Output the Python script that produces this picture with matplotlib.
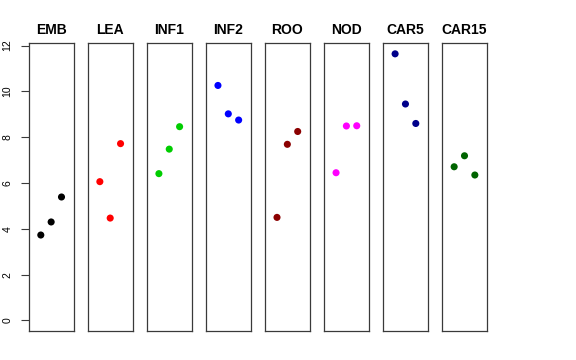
import matplotlib
matplotlib.use("Agg")
import matplotlib.pyplot as plt

plt.rcParams['font.family'] = ['Liberation Sans', 'DejaVu Sans']

tissues = ["EMB", "LEA", "INF1", "INF2", "ROO", "NOD", "CAR5", "CAR15"]
colors = ["#000000", "#FF0000", "#00CD00", "#0000FF", "#8B0000", "#FF00FF", "#00008B", "#006400"]
values = {
    "EMB":   [3.73, 4.30, 5.39],
    "LEA":   [6.06, 4.47, 7.72],
    "INF1":  [6.41, 7.48, 8.46],
    "INF2":  [10.26, 9.02, 8.75],
    "ROO":   [4.50, 7.69, 8.25],
    "NOD":   [6.45, 8.49, 8.50],
    "CAR5":  [11.64, 9.45, 8.60],
    "CAR15": [6.71, 7.19, 6.35],
}
yticks = [0, 2, 4, 6, 8, 10, 12]
reps = [1, 2, 3]

W, H = 576, 360
fig = plt.figure(figsize=(W / 100, H / 100), dpi=100)

left_px = 28.8
pitch_px = 59.05
width_px = 44.7
top_px = 43.3
bottom_px = 331.0

for i, t in enumerate(tissues):
    x0 = (left_px + i * pitch_px) / W
    ax = fig.add_axes([x0, 1 - bottom_px / H, width_px / W, (bottom_px - top_px) / H])
    ax.scatter(reps, values[t], s=26, color=colors[i], edgecolors='none', zorder=3)
    ax.set_xlim(-0.16, 4.16)
    ax.set_ylim(-0.46, 12.1)
    ax.set_xticks([])
    for sp in ax.spines.values():
        sp.set_color("#3a3a3a")
        sp.set_linewidth(0.9)
    ax.set_title(t, fontsize=10, fontweight='bold', pad=7)
    if i == 0:
        ax.set_yticks(yticks)
        ax.set_yticklabels([str(v) for v in yticks], rotation=90, va='center', fontsize=7.5)
        ax.tick_params(axis='y', length=5.8, width=0.8, pad=6, color="#3a3a3a")
    else:
        ax.set_yticks([])

fig.savefig("out.png", dpi=100)
